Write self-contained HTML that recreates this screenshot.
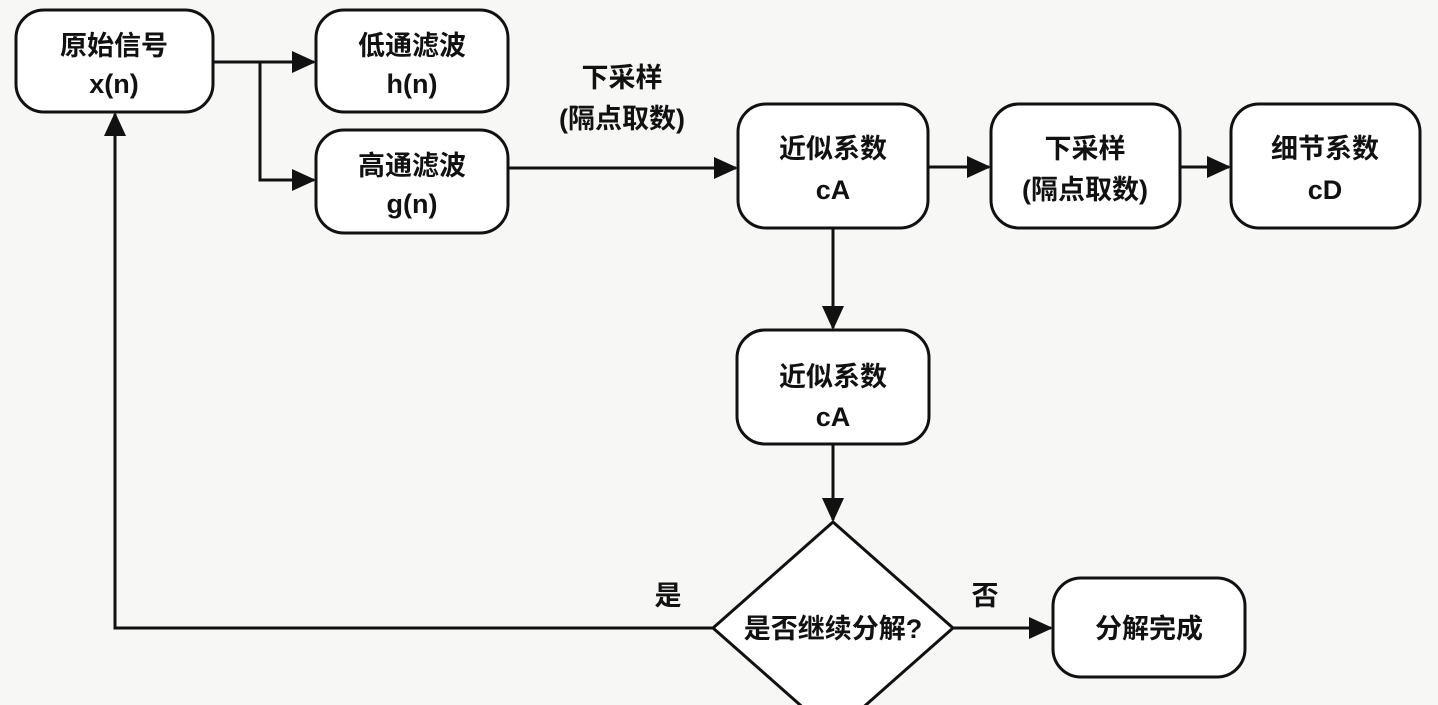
<!DOCTYPE html>
<html><head><meta charset="utf-8"><style>
body{margin:0;background:#f7f7f5;}
svg{display:block}
text{font-family:"Liberation Sans","Noto Sans CJK SC",sans-serif;font-size:27px;fill:#111;text-anchor:middle;font-weight:bold}
</style></head><body>
<svg width="1438" height="705" viewBox="0 0 1438 705" xmlns="http://www.w3.org/2000/svg">
<defs>
<marker id="b" markerWidth="24" markerHeight="24" refX="22" refY="12" orient="auto" markerUnits="userSpaceOnUse" viewBox="0 0 24 24"><path d="M0,1 L24,12 L0,23 z" fill="#111"/></marker></defs>
<g fill="#fff" stroke="#111" stroke-width="3">
<rect x="16" y="10" width="197" height="102" rx="28"/>
<rect x="316" y="10" width="192" height="102" rx="28"/>
<rect x="316" y="130" width="192" height="103" rx="28"/>
<rect x="738" y="104" width="190" height="124" rx="28"/>
<rect x="991" y="104" width="189" height="124" rx="28"/>
<rect x="1231" y="104" width="189" height="124" rx="28"/>
<rect x="737" y="330" width="192" height="114" rx="28"/>
<rect x="1053" y="578" width="192" height="99" rx="28"/>
<polygon points="833,522 953,628 833,734 713,628"/>
</g>
<g fill="none" stroke="#111" stroke-width="3">
<path d="M213,62 H314" marker-end="url(#b)"/>
<path d="M260,62 V180 H314" marker-end="url(#b)"/>
<path d="M508,168 H736" marker-end="url(#b)"/>
<path d="M928,167 H989" marker-end="url(#b)"/>
<path d="M1180,167 H1229" marker-end="url(#b)"/>
<path d="M833,228 V328" marker-end="url(#b)"/>
<path d="M833,444 V520" marker-end="url(#b)"/>
<path d="M713,628 H115 V114" marker-end="url(#b)"/>
<path d="M953,628 H1051" marker-end="url(#b)"/>
</g>
<text x="114" y="55">原始信号</text><text x="114" y="93">x(n)</text>
<text x="412" y="55">低通滤波</text><text x="412" y="93">h(n)</text>
<text x="412" y="175">高通滤波</text><text x="412" y="213">g(n)</text>
<text x="622" y="87">下采样</text><text x="622" y="128">(隔点取数)</text>
<text x="833" y="158">近似系数</text><text x="833" y="199">cA</text>
<text x="1085" y="158">下采样</text><text x="1085" y="199">(隔点取数)</text>
<text x="1325" y="158">细节系数</text><text x="1325" y="199">cD</text>
<text x="833" y="386">近似系数</text><text x="833" y="426">cA</text>
<text x="833" y="638">是否继续分解?</text>
<text x="668" y="605">是</text><text x="985" y="605">否</text>
<text x="1149" y="638">分解完成</text>
</svg>
</body></html>
